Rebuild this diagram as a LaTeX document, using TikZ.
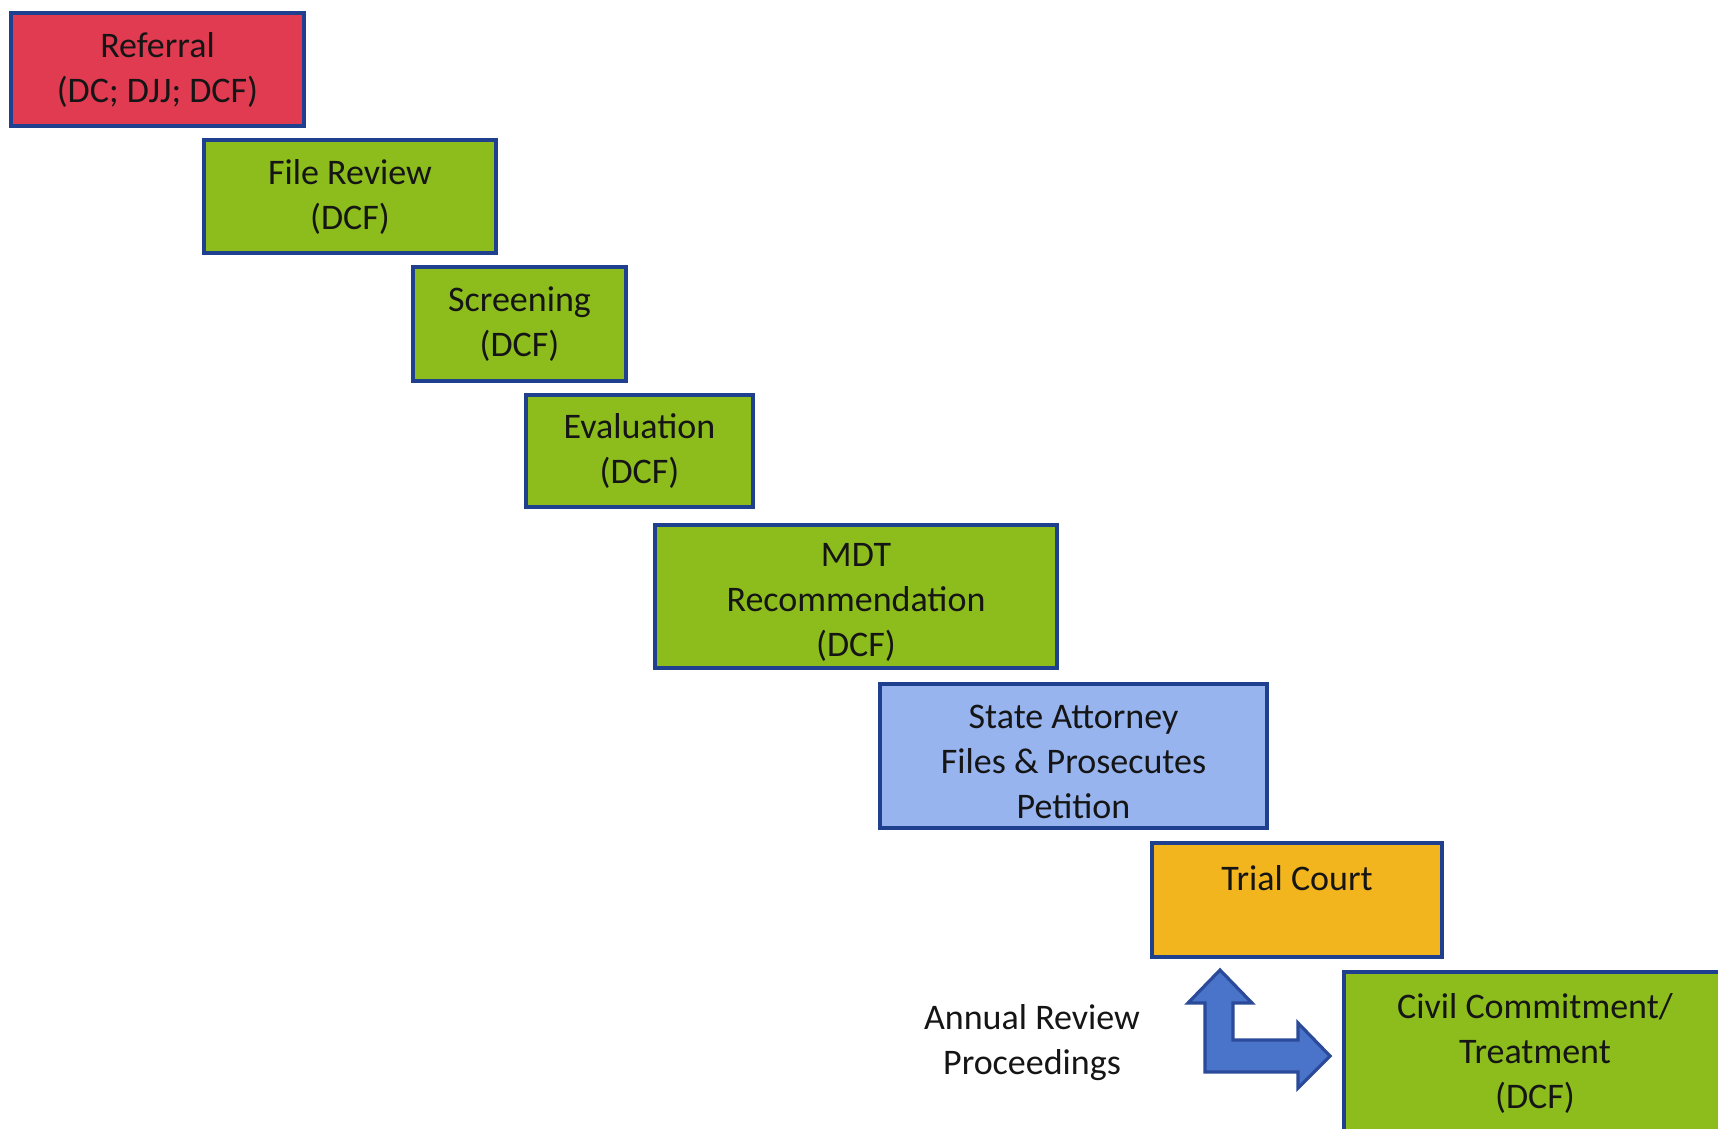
\documentclass[tikz,border=0pt]{standalone}
\usepackage{fontspec}
\setmainfont{Carlito}
\definecolor{redbox}{HTML}{E13B52}
\definecolor{greenbox}{HTML}{8CBD1C}
\definecolor{bluebox}{HTML}{97B4EE}
\definecolor{yellowbox}{HTML}{F2B51E}
\definecolor{boxline}{HTML}{1F3F8F}
\definecolor{arrowfill}{HTML}{4A74C9}
\definecolor{arrowline}{HTML}{2B4A9A}
\definecolor{textc}{HTML}{151515}
\begin{document}
\begin{tikzpicture}[x=0.5pt,y=-0.5pt,
  box/.style={draw=boxline, line width=2pt, align=center, inner sep=0pt,
    font=\fontsize{18}{22.5}\selectfont, text=textc},
  lbl/.style={align=center, inner sep=0pt, font=\fontsize{18}{22.5}\selectfont, text=textc},
  bigarrow/.style={fill=arrowfill, draw=arrowline, line width=1.6pt, line join=miter}
]
\useasboundingbox (0,0) rectangle (1718,1129);
\clip (0,0) rectangle (1718,1129);
\fill[white] (0,0) rectangle (1718,1129);

\node[box, fill=redbox, minimum width=146.5pt, minimum height=56.5pt] (referral) at (157.5,69.5) {Referral\\(DC; DJJ; DCF)};
\node[box, fill=greenbox, minimum width=146pt, minimum height=56.5pt] (filereview) at (350,196.5) {File Review\\(DCF)};
\node[box, fill=greenbox, minimum width=106.5pt, minimum height=57pt] (screening) at (519.5,324) {Screening\\(DCF)};
\node[box, fill=greenbox, minimum width=113.5pt, minimum height=56pt] (evaluation) at (639.5,451) {Evaluation\\(DCF)};
\node[box, fill=greenbox, minimum width=201pt, minimum height=71.5pt] (mdt) at (856,596) {\rule{0pt}{18.2pt}MDT\\Recommendation\\(DCF)};
\node[box, fill=bluebox, minimum width=193.5pt, minimum height=72pt] (state) at (1073.5,756) {\rule{0pt}{17.4pt}State Attorney\\Files \& Prosecutes\\Petition};
\node[box, fill=yellowbox, minimum width=145pt, minimum height=57pt] (trial) at (1297,900) {Trial Court\\\mbox{}};
\node[box, fill=greenbox, minimum width=191pt, minimum height=81.5pt] (civil) at (1535,1053.5) {Civil Commitment/\\Treatment\\(DCF)};

\node[lbl] (annual) at (1032,1043) {Annual Review\\Proceedings};

\draw[bigarrow] (1220,970) -- (1252,1003) -- (1233,1003) -- (1233,1040)
  -- (1298,1040) -- (1298,1023) -- (1330,1056) -- (1298,1088) -- (1298,1072)
  -- (1205,1072) -- (1205,1003) -- (1188,1003) -- cycle;
\end{tikzpicture}
\end{document}
